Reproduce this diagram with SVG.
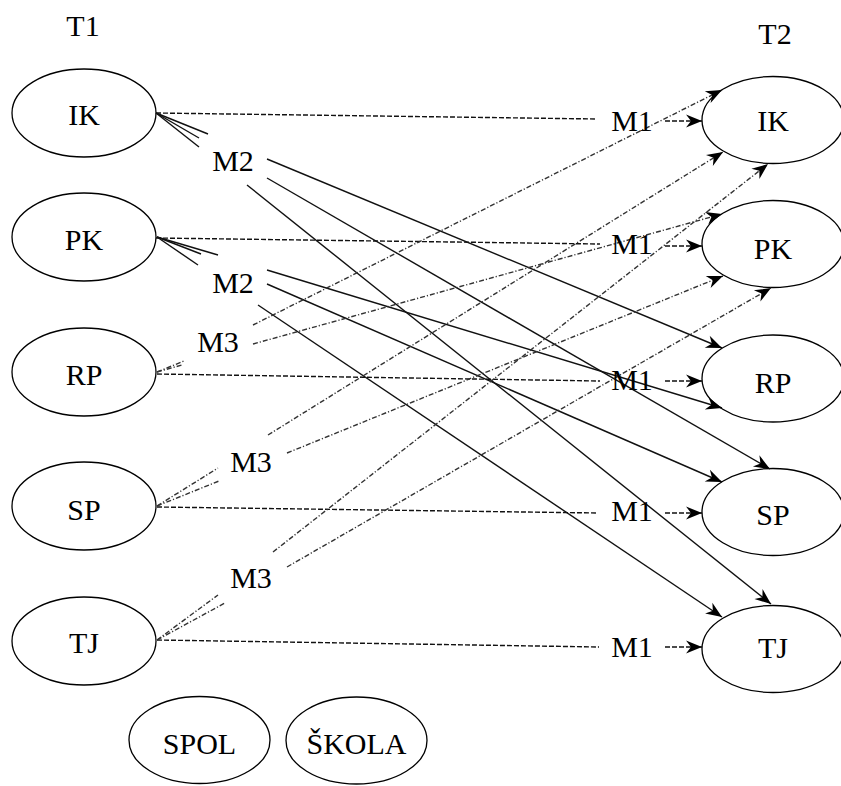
<svg xmlns="http://www.w3.org/2000/svg" width="841" height="786" viewBox="0 0 841 786">
<style>
text{font-family:"Liberation Serif","Times New Roman",serif;font-size:30px;fill:#000;text-anchor:middle}
ellipse{fill:none;stroke:#000;stroke-width:1.3}
.m1{stroke:#111;stroke-width:1.4;stroke-dasharray:5,2;fill:none}
.m2{stroke:#111;stroke-width:1.4;fill:none}
.m3{stroke:#333;stroke-width:1.4;stroke-dasharray:5,2,1.2,2;fill:none}
</style>
<defs>
<marker id="ah" markerUnits="userSpaceOnUse" viewBox="-17 -8 18 16" refX="0" refY="0" markerWidth="18" markerHeight="16" orient="auto">
<path d="M0,0 L-16,-6.5 L-11,0 L-16,6.5 Z" fill="#000"/>
</marker>
</defs>
<text x="83" y="36">T1</text>
<text x="775" y="44">T2</text>
<g id="L_IK"><ellipse cx="84" cy="113" rx="72" ry="44"/><text x="84" y="125">IK</text></g>
<g id="L_PK"><ellipse cx="84" cy="237" rx="72" ry="44"/><text x="84" y="250">PK</text></g>
<g id="L_RP"><ellipse cx="84" cy="372" rx="72" ry="44"/><text x="84" y="385">RP</text></g>
<g id="L_SP"><ellipse cx="84" cy="506" rx="72" ry="44"/><text x="84" y="520">SP</text></g>
<g id="L_TJ"><ellipse cx="84" cy="641" rx="72" ry="44"/><text x="84" y="653">TJ</text></g>
<g id="R_IK"><ellipse cx="773" cy="120" rx="71" ry="43.5"/><text x="773" y="131">IK</text></g>
<g id="R_PK"><ellipse cx="773" cy="244" rx="71" ry="43.5"/><text x="773" y="259">PK</text></g>
<g id="R_RP"><ellipse cx="773" cy="378.5" rx="71" ry="43.5"/><text x="773" y="393">RP</text></g>
<g id="R_SP"><ellipse cx="773" cy="512" rx="71" ry="43.5"/><text x="773" y="525">SP</text></g>
<g id="R_TJ"><ellipse cx="773" cy="649" rx="71" ry="43.5"/><text x="773" y="658">TJ</text></g>
<g id="SPOL"><ellipse cx="199.5" cy="740" rx="70.5" ry="43.5"/><text x="199.5" y="754">SPOL</text></g>
<g id="SKOLA"><ellipse cx="356.5" cy="740.5" rx="70.5" ry="43.5"/><text x="356.5" y="754">ŠKOLA</text></g>
<g id="connectors">
<line class="m1" x1="156" y1="113" x2="597" y2="119"/>
<line class="m1" x1="156" y1="238" x2="600" y2="244"/>
<line class="m1" x1="157" y1="374" x2="600" y2="381"/>
<line class="m1" x1="157" y1="507" x2="597" y2="513"/>
<line class="m1" x1="157" y1="640" x2="599" y2="647"/>
<line class="m1" x1="665" y1="121" x2="702" y2="121" marker-end="url(#ah)"/>
<line class="m1" x1="665" y1="246" x2="702" y2="246" marker-end="url(#ah)"/>
<line class="m1" x1="665" y1="381" x2="702" y2="381" marker-end="url(#ah)"/>
<line class="m1" x1="665" y1="513" x2="702" y2="513" marker-end="url(#ah)"/>
<line class="m1" x1="665" y1="647" x2="702" y2="647" marker-end="url(#ah)"/>
<line class="m2" x1="156" y1="113" x2="208" y2="134"/>
<line class="m2" x1="156" y1="113" x2="199" y2="138"/>
<line class="m2" x1="156" y1="113" x2="199" y2="147"/>
<line class="m2" x1="157" y1="237" x2="218" y2="255"/>
<line class="m2" x1="157" y1="237" x2="201" y2="254"/>
<line class="m2" x1="157" y1="237" x2="198" y2="265"/>
<line class="m2" x1="267" y1="159" x2="722" y2="348" marker-end="url(#ah)"/>
<line class="m2" x1="267" y1="178" x2="770" y2="469" marker-end="url(#ah)"/>
<line class="m2" x1="247" y1="185" x2="771" y2="604" marker-end="url(#ah)"/>
<line class="m2" x1="267" y1="270" x2="722" y2="408" marker-end="url(#ah)"/>
<line class="m2" x1="267" y1="284" x2="722" y2="482" marker-end="url(#ah)"/>
<line class="m2" x1="258" y1="305" x2="722" y2="617" marker-end="url(#ah)"/>
<line class="m3" x1="157" y1="372" x2="184" y2="361"/>
<line class="m3" x1="157" y1="372" x2="182" y2="365"/>
<line class="m3" x1="157" y1="506" x2="218" y2="468"/>
<line class="m3" x1="157" y1="506" x2="219" y2="481"/>
<line class="m3" x1="157" y1="640" x2="218" y2="595"/>
<line class="m3" x1="157" y1="640" x2="225" y2="603"/>
<line class="m3" x1="253" y1="325" x2="722" y2="90" marker-end="url(#ah)"/>
<line class="m3" x1="253" y1="344" x2="722" y2="214" marker-end="url(#ah)"/>
<line class="m3" x1="268" y1="435" x2="723" y2="152" marker-end="url(#ah)"/>
<line class="m3" x1="287" y1="453" x2="723" y2="276" marker-end="url(#ah)"/>
<line class="m3" x1="273" y1="552" x2="768" y2="164" marker-end="url(#ah)"/>
<line class="m3" x1="287" y1="567" x2="771" y2="288" marker-end="url(#ah)"/>
</g>
<g id="labels">
<text x="632" y="131">M1</text>
<text x="632" y="254">M1</text>
<text x="632" y="390">M1</text>
<text x="632" y="521">M1</text>
<text x="632" y="657">M1</text>
<text x="233" y="171">M2</text>
<text x="233" y="293">M2</text>
<text x="218" y="352">M3</text>
<text x="251" y="472">M3</text>
<text x="251" y="588">M3</text>
</g>
</svg>
